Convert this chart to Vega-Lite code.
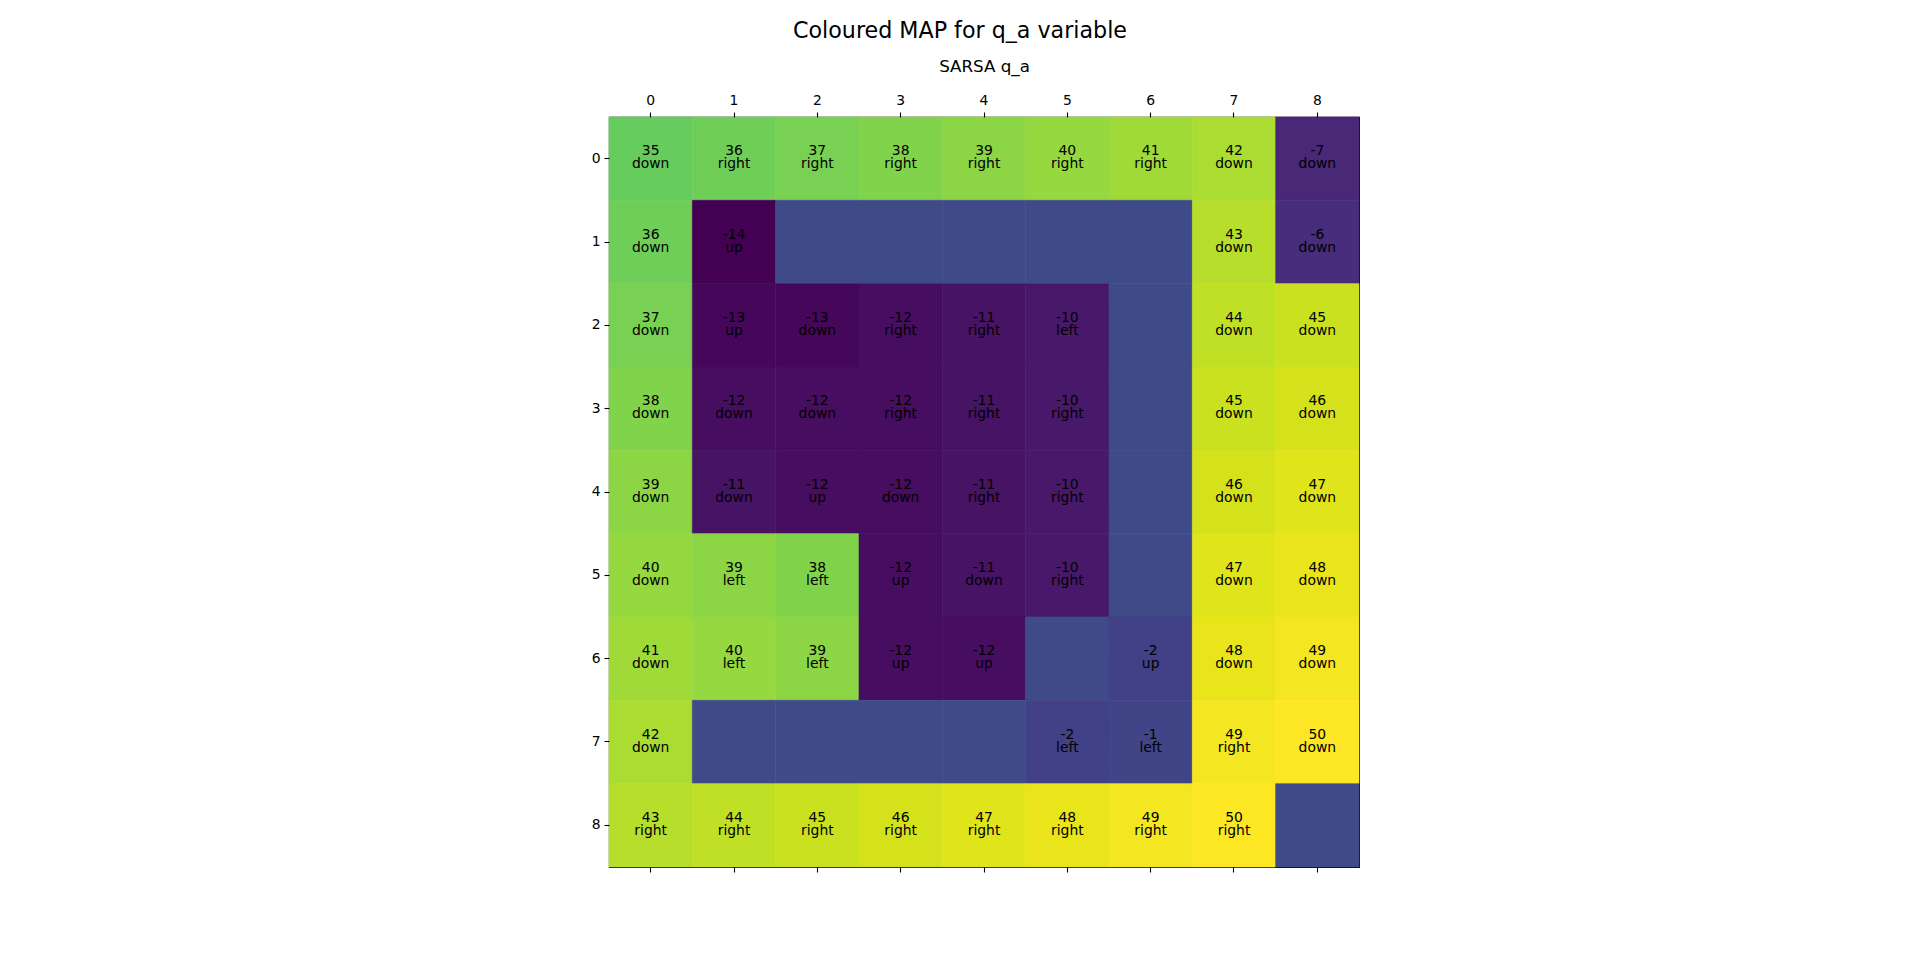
{
  "$schema": "https://vega.github.io/schema/vega-lite/v6.json",
  "width": 750,
  "height": 750,
  "autosize": {"type": "none"},
  "padding": {"left": 609, "top": 117, "right": 561, "bottom": 106},
  "background": "white",
  "config": {
    "font": "DejaVu Sans",
    "locale": {"number": {"decimal": ".", "thousands": ",", "grouping": [3], "currency": ["$", ""], "minus": "-"}},
    "view": {"stroke": "black", "strokeWidth": 1.1},
    "axis": {
      "labelFont": "DejaVu Sans",
      "labelFontSize": 13.9,
      "labelColor": "black",
      "tickColor": "black",
      "tickWidth": 1.1,
      "tickSize": 5,
      "domain": false,
      "grid": false,
      "labelAngle": 0
    }
  },
  "title": {
    "text": "Coloured MAP for q_a variable",
    "fontSize": 22.2,
    "fontWeight": "normal",
    "font": "DejaVu Sans",
    "color": "black",
    "anchor": "middle",
    "baseline": "alphabetic",
    "dx": -24,
    "dy": 24,
    "offset": 22
  },
  "data": {
    "values": [
      {"row": 0, "col": 0, "value": 35, "action": "down"},
      {"row": 0, "col": 1, "value": 36, "action": "right"},
      {"row": 0, "col": 2, "value": 37, "action": "right"},
      {"row": 0, "col": 3, "value": 38, "action": "right"},
      {"row": 0, "col": 4, "value": 39, "action": "right"},
      {"row": 0, "col": 5, "value": 40, "action": "right"},
      {"row": 0, "col": 6, "value": 41, "action": "right"},
      {"row": 0, "col": 7, "value": 42, "action": "down"},
      {"row": 0, "col": 8, "value": -7, "action": "down"},
      {"row": 1, "col": 0, "value": 36, "action": "down"},
      {"row": 1, "col": 1, "value": -14, "action": "up"},
      {"row": 1, "col": 2, "value": 0, "action": null},
      {"row": 1, "col": 3, "value": 0, "action": null},
      {"row": 1, "col": 4, "value": 0, "action": null},
      {"row": 1, "col": 5, "value": 0, "action": null},
      {"row": 1, "col": 6, "value": 0, "action": null},
      {"row": 1, "col": 7, "value": 43, "action": "down"},
      {"row": 1, "col": 8, "value": -6, "action": "down"},
      {"row": 2, "col": 0, "value": 37, "action": "down"},
      {"row": 2, "col": 1, "value": -13, "action": "up"},
      {"row": 2, "col": 2, "value": -13, "action": "down"},
      {"row": 2, "col": 3, "value": -12, "action": "right"},
      {"row": 2, "col": 4, "value": -11, "action": "right"},
      {"row": 2, "col": 5, "value": -10, "action": "left"},
      {"row": 2, "col": 6, "value": 0, "action": null},
      {"row": 2, "col": 7, "value": 44, "action": "down"},
      {"row": 2, "col": 8, "value": 45, "action": "down"},
      {"row": 3, "col": 0, "value": 38, "action": "down"},
      {"row": 3, "col": 1, "value": -12, "action": "down"},
      {"row": 3, "col": 2, "value": -12, "action": "down"},
      {"row": 3, "col": 3, "value": -12, "action": "right"},
      {"row": 3, "col": 4, "value": -11, "action": "right"},
      {"row": 3, "col": 5, "value": -10, "action": "right"},
      {"row": 3, "col": 6, "value": 0, "action": null},
      {"row": 3, "col": 7, "value": 45, "action": "down"},
      {"row": 3, "col": 8, "value": 46, "action": "down"},
      {"row": 4, "col": 0, "value": 39, "action": "down"},
      {"row": 4, "col": 1, "value": -11, "action": "down"},
      {"row": 4, "col": 2, "value": -12, "action": "up"},
      {"row": 4, "col": 3, "value": -12, "action": "down"},
      {"row": 4, "col": 4, "value": -11, "action": "right"},
      {"row": 4, "col": 5, "value": -10, "action": "right"},
      {"row": 4, "col": 6, "value": 0, "action": null},
      {"row": 4, "col": 7, "value": 46, "action": "down"},
      {"row": 4, "col": 8, "value": 47, "action": "down"},
      {"row": 5, "col": 0, "value": 40, "action": "down"},
      {"row": 5, "col": 1, "value": 39, "action": "left"},
      {"row": 5, "col": 2, "value": 38, "action": "left"},
      {"row": 5, "col": 3, "value": -12, "action": "up"},
      {"row": 5, "col": 4, "value": -11, "action": "down"},
      {"row": 5, "col": 5, "value": -10, "action": "right"},
      {"row": 5, "col": 6, "value": 0, "action": null},
      {"row": 5, "col": 7, "value": 47, "action": "down"},
      {"row": 5, "col": 8, "value": 48, "action": "down"},
      {"row": 6, "col": 0, "value": 41, "action": "down"},
      {"row": 6, "col": 1, "value": 40, "action": "left"},
      {"row": 6, "col": 2, "value": 39, "action": "left"},
      {"row": 6, "col": 3, "value": -12, "action": "up"},
      {"row": 6, "col": 4, "value": -12, "action": "up"},
      {"row": 6, "col": 5, "value": 0, "action": null},
      {"row": 6, "col": 6, "value": -2, "action": "up"},
      {"row": 6, "col": 7, "value": 48, "action": "down"},
      {"row": 6, "col": 8, "value": 49, "action": "down"},
      {"row": 7, "col": 0, "value": 42, "action": "down"},
      {"row": 7, "col": 1, "value": 0, "action": null},
      {"row": 7, "col": 2, "value": 0, "action": null},
      {"row": 7, "col": 3, "value": 0, "action": null},
      {"row": 7, "col": 4, "value": 0, "action": null},
      {"row": 7, "col": 5, "value": -2, "action": "left"},
      {"row": 7, "col": 6, "value": -1, "action": "left"},
      {"row": 7, "col": 7, "value": 49, "action": "right"},
      {"row": 7, "col": 8, "value": 50, "action": "down"},
      {"row": 8, "col": 0, "value": 43, "action": "right"},
      {"row": 8, "col": 1, "value": 44, "action": "right"},
      {"row": 8, "col": 2, "value": 45, "action": "right"},
      {"row": 8, "col": 3, "value": 46, "action": "right"},
      {"row": 8, "col": 4, "value": 47, "action": "right"},
      {"row": 8, "col": 5, "value": 48, "action": "right"},
      {"row": 8, "col": 6, "value": 49, "action": "right"},
      {"row": 8, "col": 7, "value": 50, "action": "right"},
      {"row": 8, "col": 8, "value": 0, "action": null}
    ]
  },
  "layer": [
    {
      "mark": {"type": "rect", "strokeWidth": 0.6},
      "encoding": {
        "x": {
          "field": "col", "type": "ordinal",
          "scale": {"paddingInner": 0, "paddingOuter": 0},
          "axis": {
            "orient": "top",
            "title": "SARSA q_a",
            "titleFont": "DejaVu Sans",
            "titleFontSize": 16.7,
            "titleFontWeight": "normal",
            "titleColor": "black",
            "titleBaseline": "alphabetic",
            "titlePadding": 22,
            "labelBaseline": "alphabetic",
            "labelPadding": 8
          }
        },
        "y": {
          "field": "row", "type": "ordinal",
          "scale": {"paddingInner": 0, "paddingOuter": 0},
          "axis": {"orient": "left", "title": null, "labelPadding": 4, "labelBaseline": "middle"}
        },
        "color": {
          "field": "value", "type": "quantitative",
          "scale": {"scheme": "viridis"},
          "legend": null
        },
        "stroke": {
          "field": "value", "type": "quantitative",
          "scale": {"scheme": "viridis"},
          "legend": null
        }
      }
    },
    {
      "mark": {"type": "rect", "opacity": 0},
      "encoding": {
        "x": {
          "field": "col", "type": "ordinal",
          "axis": {"orient": "bottom", "title": null, "labels": false}
        },
        "y": {"field": "row", "type": "ordinal", "axis": null}
      }
    },
    {
      "transform": [{"filter": "datum.action != null"}],
      "mark": {"type": "text", "baseline": "alphabetic", "dy": -3.5, "fontSize": 13.9, "font": "DejaVu Sans", "color": "black"},
      "encoding": {
        "x": {"field": "col", "type": "ordinal", "axis": null},
        "y": {"field": "row", "type": "ordinal", "axis": null},
        "text": {"field": "value", "type": "quantitative", "format": "d"}
      }
    },
    {
      "transform": [{"filter": "datum.action != null"}],
      "mark": {"type": "text", "baseline": "alphabetic", "dy": 9.8, "fontSize": 13.9, "font": "DejaVu Sans", "color": "black"},
      "encoding": {
        "x": {"field": "col", "type": "ordinal", "axis": null},
        "y": {"field": "row", "type": "ordinal", "axis": null},
        "text": {"field": "action", "type": "nominal"}
      }
    }
  ],
  "resolve": {"axis": {"x": "independent", "y": "independent"}}
}
